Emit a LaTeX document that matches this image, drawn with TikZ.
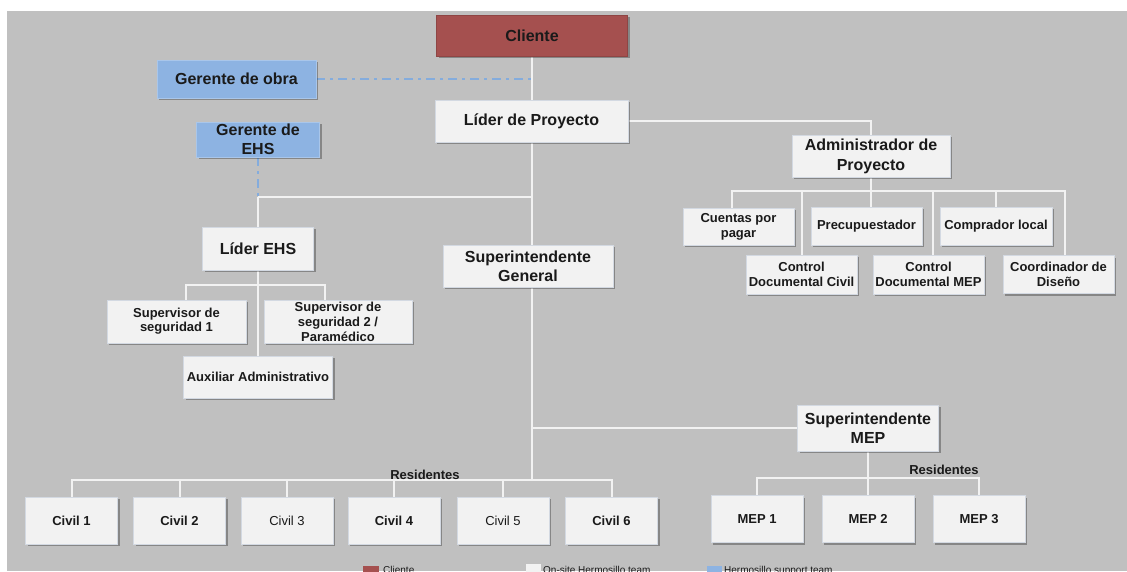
\documentclass[tikz,border=0pt]{standalone}
\usepackage{fontspec}
\setmainfont{Liberation Sans}
\usetikzlibrary{calc,shadows}
\definecolor{bggray}{HTML}{C0C0C0}
\definecolor{boxfill}{HTML}{F2F2F2}
\definecolor{boxborder}{HTML}{D3D9E2}
\definecolor{clientefill}{HTML}{A5504F}
\definecolor{clienteborder}{HTML}{8E4544}
\definecolor{supportfill}{HTML}{8DB3E2}
\definecolor{supportborder}{HTML}{A9C6EA}
\definecolor{linecol}{HTML}{F2F2F2}
\definecolor{dashcol}{HTML}{84ACDD}
\definecolor{txt}{HTML}{1A1A1A}
\pgfdeclarelayer{lines}
\pgfsetlayers{lines,main}
\tikzset{
  box/.style={rectangle, draw=boxborder, line width=0.8pt, fill=boxfill,
    inner sep=0pt, align=center, text=txt,
    font=\bfseries\fontsize{16}{19}\selectfont,
    drop shadow={shadow xshift=2pt, shadow yshift=-2pt, fill=black, opacity=0.3}},
  smallbox/.style={box, font=\bfseries\fontsize{13}{15}\selectfont},
  civilbox/.style={smallbox, minimum width=92pt, minimum height=47pt},
  clientebox/.style={box, fill=clientefill, draw=clienteborder},
  supportbox/.style={box, fill=supportfill, draw=supportborder},
  conn/.style={draw=linecol, line width=2pt},
  dashconn/.style={draw=dashcol, line width=2pt, dash pattern=on 9pt off 5pt on 3pt off 5pt},
  reslabel/.style={anchor=base, inner sep=0pt, text=txt, font=\bfseries\fontsize{13}{15}\selectfont},
  legtext/.style={anchor=base west, inner sep=0pt, text=txt, font=\fontsize{10}{12}\selectfont}
}
\begin{document}
\begin{tikzpicture}[x=1pt,y=-1pt]
\useasboundingbox (0,0) rectangle (1127,571);
\begin{pgfonlayer}{lines}
\fill[white] (0,0) rectangle (1127,571);
\fill[bggray] (7,11) rectangle (1127,571);
\end{pgfonlayer}

% top
\node[clientebox, minimum width=191pt, minimum height=41pt] (cliente) at (532,35.5) {Cliente};
\node[supportbox, minimum width=159pt, minimum height=38pt] (gobra) at (236.5,79) {Gerente de obra};
\node[box, minimum width=193pt, minimum height=42pt] (lider) at (531.5,121) {Líder de Proyecto};
\node[supportbox, minimum width=123pt, minimum height=35pt] (gehs) at (258,139.5) {Gerente de\\EHS};

% admin branch
\node[box, minimum width=158pt, minimum height=42pt, font=\bfseries\fontsize{16}{20}\selectfont] (admin) at (871,156) {Administrador de\\Proyecto};
\node[smallbox, minimum width=111pt, minimum height=37pt] (cuentas) at (738.5,226.5) {Cuentas por\\pagar};
\node[smallbox, minimum width=111pt, minimum height=38pt] (prec) at (866.5,226) {Precupuestador};
\node[smallbox, minimum width=112pt, minimum height=38pt] (comp) at (996,226) {Comprador local};
\node[smallbox, minimum width=111pt, minimum height=39pt] (cdc) at (801.5,274.5) {Control\\Documental Civil};
\node[smallbox, minimum width=111pt, minimum height=39pt] (cdm) at (928.5,274.5) {Control\\Documental MEP};
\node[smallbox, minimum width=111pt, minimum height=38pt] (coord) at (1058.5,274.5) {Coordinador de\\Diseño};

% EHS branch
\node[box, minimum width=111pt, minimum height=43pt] (lehs) at (258,248.5) {Líder EHS};
\node[box, minimum width=170pt, minimum height=42pt] (sg) at (528,266) {Superintendente\\General};
\node[smallbox, minimum width=139pt, minimum height=43pt, font=\bfseries\fontsize{13}{14}\selectfont] (sup1) at (176.5,321.5) {Supervisor de\\seguridad 1};
\node[smallbox, minimum width=148pt, minimum height=43pt] (sup2) at (338,321.5) {Supervisor de\\seguridad 2 /\\Paramédico};
\node[smallbox, minimum width=149pt, minimum height=42pt] (aux) at (258,377) {Auxiliar Administrativo};

% MEP
\node[box, minimum width=141pt, minimum height=46pt] (sm) at (868,428) {Superintendente\\MEP};

% civils
\node[civilbox] (civ1) at (71.5,520.5) {Civil 1};
\node[civilbox] (civ2) at (179.5,520.5) {Civil 2};
\node[civilbox, font=\mdseries\fontsize{13}{15}\selectfont] (civ3) at (287,520.5) {Civil 3};
\node[civilbox] (civ4) at (394,520.5) {Civil 4};
\node[civilbox, font=\mdseries\fontsize{13}{15}\selectfont] (civ5) at (503,520.5) {Civil 5};
\node[civilbox] (civ6) at (611.5,520.5) {Civil 6};

% meps
\node[civilbox] (mep1) at (757,519) {MEP 1};
\node[civilbox] (mep2) at (868,519) {MEP 2};
\node[civilbox] (mep3) at (979,519) {MEP 3};

% labels
\node[reslabel] (res1) at (425,479.5) {Residentes};
\node[reslabel] (res2) at (944,474.5) {Residentes};

% junction coordinates
\coordinate (ehsj) at (258,197);
\coordinate (ab) at ($(admin.south)+(0,14)$);
\coordinate (lb) at ($(lehs.south)+(0,15)$);
\coordinate (cb) at (531.5,480);
\coordinate (mj) at (531.5,428);
\coordinate (mb) at ($(sm.south)+(0,27)$);
\coordinate (oj) at (gobra.east -| lider.north);

\begin{pgfonlayer}{lines}
\draw[conn] (cliente.south -| lider.north) -- (lider.north);
\draw[conn] (lider.south) -- (cb);
\draw[conn] (lider.east) -| (admin.north);
% admin children
\draw[conn] (admin.south) -- (admin.south |- prec.north);
\draw[conn] ($(cuentas.north)+(-6.5,0)$) |- (ab);
\draw[conn] (cdc.north) |- (ab);
\draw[conn] ($(cdm.north)+(4.5,0)$) |- (ab);
\draw[conn] (comp.north) |- (ab);
\draw[conn] ($(coord.north)+(6.5,0)$) |- (ab);
% EHS
\draw[conn] (ehsj) -- (ehsj -| lider.south);
\draw[conn] (ehsj) -- (lehs.north);
\draw[conn] (lehs.south) -- (aux.north);
\draw[conn] ($(sup1.north)+(9.5,0)$) |- (lb);
\draw[conn] ($(sup2.north)+(-13,0)$) |- (lb);
% civils
\draw[conn] (civ1.north) |- (cb);
\draw[conn] (civ2.north) |- (cb);
\draw[conn] (civ3.north) |- (cb);
\draw[conn] (civ4.north) |- (cb);
\draw[conn] (civ5.north) |- (cb);
\draw[conn] (civ6.north) |- (cb);
% MEP
\draw[conn] (mj) -- (sm.west);
\draw[conn] (sm.south) -- (mep2.north);
\draw[conn] (mep1.north) |- (mb);
\draw[conn] (mep3.north) |- (mb);
% dashed support links
\draw[dashconn] (gobra.east) -- (oj);
\draw[dashconn] (gehs.south) -- (ehsj);
\end{pgfonlayer}

% legend (cut off at bottom)
\fill[clientefill] (363,566) rectangle (379,580);
\node[legtext] (legc) at (383,573.5) {Cliente};
\fill[boxfill] (526,564) rectangle (541,580);
\node[legtext] (lego) at (543,573.5) {On-site Hermosillo team};
\fill[supportfill] (707,566) rectangle (722,580);
\node[legtext] (legs) at (724,573.5) {Hermosillo support team};
\end{tikzpicture}
\end{document}
